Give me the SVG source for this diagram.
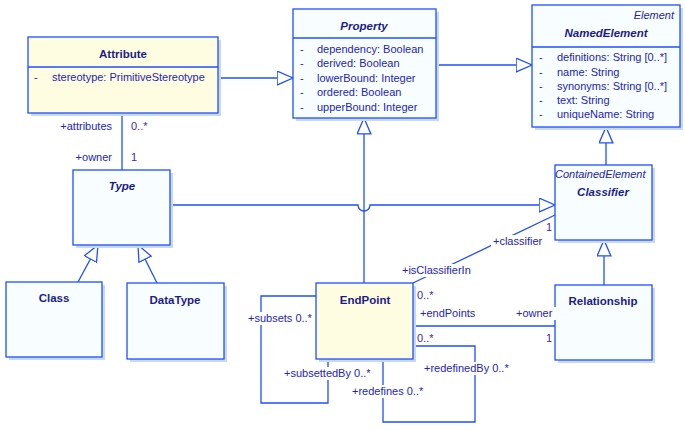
<svg xmlns="http://www.w3.org/2000/svg" width="685" height="431" viewBox="0 0 685 431">
  <style>
    .box { stroke: #1F4FFF; stroke-width: 1.3; }
    .cls { fill: #F8FEFF; }
    .hl { fill: #FFFDE1; }
    .shadow { fill: #C9D9F3; }
    .sep { stroke: #1F4FFF; stroke-width: 1.3; }
    .edge { fill: none; stroke: #1F4FFF; stroke-width: 1.3; }
    text { font-family: "Liberation Sans", Arial, sans-serif; font-size: 11px; fill: #2424B4; }
    .title { font-weight: bold; font-size: 11.5px; fill: #1C1C86; text-anchor: middle; }
    .abs { font-style: italic; }
    .stereo { font-style: italic; fill: #24249C; }
    .mult { fill: #4A24A6; }
    .bg { fill: #FFFFFF; }
  </style>
  <defs>
    <marker id="gen" viewBox="0 0 17 15" refX="16.5" refY="7.5" markerWidth="17" markerHeight="15" markerUnits="userSpaceOnUse" orient="auto">
      <path d="M0.6,0.6 L16.5,7.5 L0.6,14.4 Z" fill="#FFFFFF" stroke="#1F4FFF" stroke-width="1.3"/>
    </marker>
  </defs>

  <rect width="685" height="431" fill="#FFFFFF"/>

  <!-- connectors -->
  <g id="connectors">
    <path class="edge" d="M218,78 H293" marker-end="url(#gen)"/>
    <path class="edge" d="M436,65 H532" marker-end="url(#gen)"/>
    <path class="edge" d="M606,165 V127" marker-end="url(#gen)"/>
    <path class="edge" d="M170,205 H358 A6,6 0 0 0 370,205 H555" marker-end="url(#gen)"/>
    <path class="edge" d="M364,283 V118" marker-end="url(#gen)"/>
    <path class="edge" d="M604,285 V240" marker-end="url(#gen)"/>
    <path class="edge" d="M78,282 L98,245" marker-end="url(#gen)"/>
    <path class="edge" d="M157,283 L138,245" marker-end="url(#gen)"/>
    <path class="edge" d="M122,113 V170"/>
    <path class="edge" d="M413,283 L555,215"/>
    <path class="edge" d="M413,326 H555"/>
    <path class="edge" d="M316,296 H261 V403 H328 V359"/>
    <path class="edge" d="M413,346 H475 V422 H383 V359"/>
  </g>

  <!-- Attribute -->
  <g id="Attribute">
    <rect class="shadow" x="31" y="40" width="190" height="76"/>
    <rect class="box hl" x="28" y="37" width="190" height="76"/>
    <line class="sep" x1="28" y1="67" x2="218" y2="67"/>
    <text class="title" x="123" y="58">Attribute</text>
    <text x="34" y="81">-</text>
    <text x="52" y="81">stereotype: PrimitiveStereotype</text>
  </g>

  <!-- Property -->
  <g id="Property">
    <rect class="shadow" x="296" y="12" width="143" height="109"/>
    <rect class="box cls" x="293" y="9" width="143" height="109"/>
    <line class="sep" x1="293" y1="38" x2="436" y2="38"/>
    <text class="title abs" x="364" y="30">Property</text>
    <text x="300" y="53">-</text><text x="317" y="53">dependency: Boolean</text>
    <text x="300" y="67">-</text><text x="317" y="67">derived: Boolean</text>
    <text x="300" y="82">-</text><text x="317" y="82">lowerBound: Integer</text>
    <text x="300" y="96">-</text><text x="317" y="96">ordered: Boolean</text>
    <text x="300" y="111">-</text><text x="317" y="111">upperBound: Integer</text>
  </g>

  <!-- NamedElement -->
  <g id="NamedElement">
    <rect class="shadow" x="535" y="8" width="148" height="122"/>
    <rect class="box cls" x="532" y="5" width="148" height="122"/>
    <line class="sep" x1="532" y1="47" x2="680" y2="47"/>
    <text class="stereo" x="674" y="19" text-anchor="end">Element</text>
    <text class="title abs" x="606" y="37">NamedElement</text>
    <text x="539" y="61">-</text><text x="557" y="61">definitions: String [0..*]</text>
    <text x="539" y="76">-</text><text x="557" y="76">name: String</text>
    <text x="539" y="90">-</text><text x="557" y="90">synonyms: String [0..*]</text>
    <text x="539" y="104">-</text><text x="557" y="104">text: String</text>
    <text x="539" y="118">-</text><text x="557" y="118">uniqueName: String</text>
  </g>

  <!-- Type -->
  <g id="Type">
    <rect class="shadow" x="76" y="173" width="97" height="75"/>
    <rect class="box cls" x="73" y="170" width="97" height="75"/>
    <text class="title abs" x="122" y="190">Type</text>
  </g>

  <!-- Classifier -->
  <g id="Classifier">
    <rect class="shadow" x="558" y="168" width="97" height="75"/>
    <rect class="box cls" x="555" y="165" width="97" height="75"/>
    <text class="stereo" x="555" y="178">ContainedElement</text>
    <text class="title abs" x="603" y="196">Classifier</text>
  </g>

  <!-- Class -->
  <g id="Class">
    <rect class="shadow" x="9" y="285" width="96" height="75"/>
    <rect class="box cls" x="6" y="282" width="96" height="75"/>
    <text class="title" x="54" y="302">Class</text>
  </g>

  <!-- DataType -->
  <g id="DataType">
    <rect class="shadow" x="130" y="286" width="97" height="76"/>
    <rect class="box cls" x="127" y="283" width="97" height="76"/>
    <text class="title" x="175" y="304">DataType</text>
  </g>

  <!-- EndPoint -->
  <g id="EndPoint">
    <rect class="shadow" x="319" y="286" width="97" height="76"/>
    <rect class="box hl" x="316" y="283" width="97" height="76"/>
    <text class="title" x="365" y="304">EndPoint</text>
  </g>

  <!-- Relationship -->
  <g id="Relationship">
    <rect class="shadow" x="558" y="288" width="97" height="75"/>
    <rect class="box cls" x="555" y="285" width="97" height="75"/>
    <text class="title" x="603" y="305">Relationship</text>
  </g>

  <!-- association end labels -->
  <g id="labels">
    <text x="112" y="130" text-anchor="end">+attributes</text>
    <text class="mult" x="131" y="130">0..*</text>
    <text x="112" y="161" text-anchor="end">+owner</text>
    <text class="mult" x="131" y="161">1</text>

    <rect class="bg" x="401" y="264" width="70" height="13"/>
    <text x="402" y="274">+isClassifierIn</text>
    <rect class="bg" x="491" y="235" width="53" height="14"/>
    <text x="493" y="245">+classifier</text>
    <text class="mult" x="546" y="231">1</text>
    <text class="mult" x="417" y="299">0..*</text>

    <text x="420" y="317">+endPoints</text>
    <rect class="bg" x="514" y="307" width="42" height="13"/>
    <text x="516" y="317">+owner</text>
    <text class="mult" x="546" y="342">1</text>
    <text class="mult" x="417" y="342">0..*</text>

    <rect class="bg" x="247" y="312" width="66" height="13"/>
    <text x="248" y="322">+subsets 0..*</text>
    <rect class="bg" x="283" y="367" width="88" height="13"/>
    <text x="284" y="377">+subsettedBy 0..*</text>
    <rect class="bg" x="423" y="362" width="86" height="13"/>
    <text x="424" y="372">+redefinedBy 0..*</text>
    <rect class="bg" x="351" y="385" width="75" height="13"/>
    <text x="352" y="395">+redefines 0..*</text>
  </g>
</svg>
